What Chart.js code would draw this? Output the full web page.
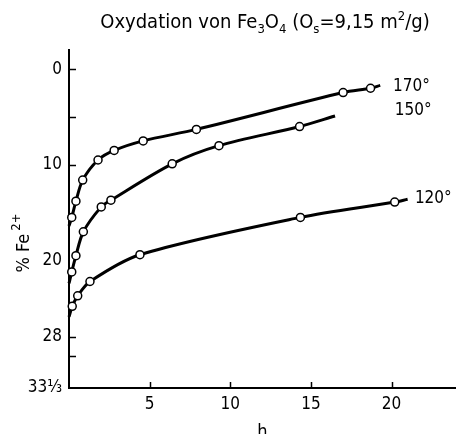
<!DOCTYPE html>
<html>
<head>
<meta charset="utf-8">
<script src="https://cdn.jsdelivr.net/npm/chart.js@4"></script>
<style>
  html, body { margin: 0; padding: 0; background: #fff; }
  #c { display: block; }
</style>
</head>
<body>
<canvas id="c" width="456" height="434"></canvas>
<script>
// ── Data ──────────────────────────────────────────────────────────────────────
// measured points: h (hours) vs % Fe2+
const h170  = [0.17, 0.43, 0.85, 1.8, 2.8, 4.6, 7.9, 17.0, 18.7];
const fe170 = [15.5, 13.8, 11.6, 9.5, 8.5, 7.5, 6.3, 2.45, 2.0];
const h150  = [0.17, 0.43, 0.89, 2.0, 2.6, 6.4, 9.3, 14.3];
const fe150 = [21.2, 19.5, 17.0, 14.4, 13.7, 9.9, 8.0, 6.0];
const h120  = [0.2, 0.54, 1.3, 4.4, 14.35, 20.2];
const fe120 = [24.8, 23.7, 22.2, 19.4, 15.5, 13.9];

// where each drawn curve starts (on the y axis) and ends
const curveStart = { t170: 16.4, t150: 22.4, t120: 25.9 };
const curveEnd   = { t170: [19.3, 1.7], t150: [16.5, 4.9], t120: [21.0, 13.6] };

const seriesNames = ['170°', '150°', '120°'];
const labelAt     = [[20.1, 1.8], [20.2, 4.3], [21.45, 13.5]];

const yTickLabels = [0, 10, 20, 28, 100 / 3];
const yTickMarks  = [0, 5, 10, 28, 30];
const xTickMarks  = [5, 10, 15, 20];

const titleParts = [['Oxydation von Fe', 0], ['3', 1], ['O', 0], ['4', 1], [' (O', 0], ['s', 1], ['=9,15 m', 0], ['2', -1], ['/g)', 0]];

// ── Helpers ───────────────────────────────────────────────────────────────────
const FONT = "'DejaVu Sans Condensed', 'Liberation Sans Narrow', 'Liberation Sans', sans-serif";

function curve(hs, fes, start, end) {
  const pts = [{ x: 0, y: start }];
  hs.forEach((h, i) => pts.push({ x: h, y: fes[i] }));
  pts.push({ x: end[0], y: end[1] });
  const radius = pts.map((p, i) => (i === 0 || i === pts.length - 1) ? 0 : 4);
  return { pts, radius };
}

function makeSet(c) {
  return {
    data: c.pts,
    borderColor: '#000', borderWidth: 3,
    tension: 0.3,
    pointRadius: c.radius, pointHoverRadius: c.radius,
    pointBackgroundColor: '#fff', pointBorderColor: '#000', pointBorderWidth: 1.5,
    clip: false
  };
}

const c170 = curve(h170, fe170, curveStart.t170, curveEnd.t170);
const c150 = curve(h150, fe150, curveStart.t150, curveEnd.t150);
const c120 = curve(h120, fe120, curveStart.t120, curveEnd.t120);

// ── Extras: inside tick marks, title, axis titles, curve labels ──────────────
const extras = {
  id: 'extras',
  afterDraw(chart) {
    const ctx = chart.ctx;
    const xs = chart.scales.x, ys = chart.scales.y;
    const left = chart.chartArea.left, bottom = chart.chartArea.bottom;
    ctx.save();
    ctx.strokeStyle = '#000';
    ctx.lineWidth = 1.5;
    yTickMarks.forEach(v => {
      const y = Math.round(ys.getPixelForValue(v)) + 0.5;
      ctx.beginPath(); ctx.moveTo(left, y); ctx.lineTo(left + 7, y); ctx.stroke();
    });
    xTickMarks.forEach(v => {
      const x = Math.round(xs.getPixelForValue(v)) + 0.5;
      ctx.beginPath(); ctx.moveTo(x, bottom); ctx.lineTo(x, bottom - 6); ctx.stroke();
    });

    ctx.fillStyle = '#000';
    ctx.textBaseline = 'alphabetic';
    // title with sub/superscripts
    const big = '20px ' + FONT, small = '13px ' + FONT;
    let w = 0;
    titleParts.forEach(([t, m]) => { ctx.font = m ? small : big; w += ctx.measureText(t).width; });
    let x = 265 - w / 2;
    titleParts.forEach(([t, m]) => {
      ctx.font = m ? small : big;
      ctx.textAlign = 'left';
      ctx.fillText(t, x, 28 + (m === 1 ? 5 : m === -1 ? -8 : 0));
      x += ctx.measureText(t).width;
    });

    // curve labels
    ctx.font = '17px ' + FONT;
    ctx.textBaseline = 'middle';
    seriesNames.forEach((s, i) => {
      ctx.fillText(s, xs.getPixelForValue(labelAt[i][0]), ys.getPixelForValue(labelAt[i][1]));
    });

    // x axis title
    ctx.textAlign = 'center';
    ctx.textBaseline = 'alphabetic';
    ctx.font = '18px ' + FONT;
    ctx.fillText('h', (left + chart.chartArea.right) / 2, 437);

    // y axis title (rotated)
    ctx.translate(23, 243);
    ctx.rotate(-Math.PI / 2);
    ctx.textAlign = 'left';
    const p1 = '% Fe', p2 = '2+';
    ctx.font = '18px ' + FONT;
    const w1 = ctx.measureText(p1).width;
    ctx.font = '13px ' + FONT;
    const w2 = ctx.measureText(p2).width;
    const sx = -(w1 + 3 + w2) / 2;
    ctx.font = '18px ' + FONT;
    ctx.fillText(p1, sx, 6);
    ctx.font = '13px ' + FONT;
    ctx.fillText(p2, sx + w1 + 3, -3);
    ctx.restore();
  }
};

// ── Chart ─────────────────────────────────────────────────────────────────────
new Chart(document.getElementById('c'), {
  type: 'line',
  data: { datasets: [makeSet(c170), makeSet(c150), makeSet(c120)] },
  options: {
    responsive: false,
    devicePixelRatio: 1,
    animation: false,
    layout: { padding: { top: 50, left: 0, right: 0, bottom: 0 } },
    plugins: { legend: { display: false }, tooltip: { enabled: false } },
    scales: {
      x: {
        type: 'linear', min: 0, max: 24,
        grid: { display: false, drawTicks: false },
        border: { display: true, color: '#000', width: 2 },
        afterBuildTicks: s => { s.ticks = xTickMarks.map(v => ({ value: v })); },
        afterFit: s => { s.height = 46; },
        ticks: { color: '#000', padding: 6, font: { family: FONT, size: 17 } }
      },
      y: {
        type: 'linear', min: -2, max: 100 / 3, reverse: true,
        grid: { display: false, drawTicks: false },
        border: { display: true, color: '#000', width: 2 },
        afterBuildTicks: s => { s.ticks = yTickLabels.map(v => ({ value: v })); },
        afterFit: s => { s.width = 69; },
        ticks: {
          color: '#000', padding: 7, font: { family: FONT, size: 17 },
          callback: v => v > 33 ? '33⅓' : String(v)
        }
      }
    }
  },
  plugins: [extras]
});
</script>
</body>
</html>
